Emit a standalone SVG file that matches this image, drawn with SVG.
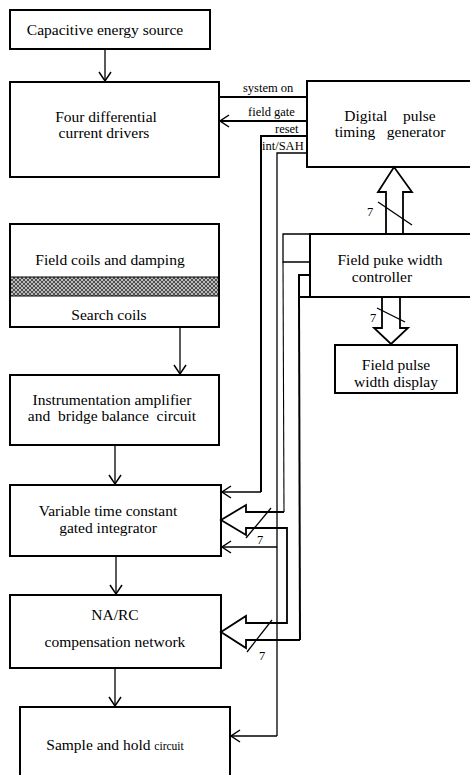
<svg xmlns="http://www.w3.org/2000/svg" width="470" height="775" viewBox="0 0 470 775">
<style>
.box{fill:#fff;stroke:#000;stroke-width:2}
.t{font-family:"Liberation Serif","Times New Roman",serif;font-size:15.5px;fill:#000;text-anchor:middle}
.s{font-family:"Liberation Serif","Times New Roman",serif;font-size:12.5px;fill:#000}
.w{fill:none;stroke:#000;stroke-width:1.3}
.wt{fill:none;stroke:#000;stroke-width:2}
.big{fill:none;stroke:#000;stroke-width:1.8;stroke-linejoin:miter}
</style>
<defs>
<marker id="ah" markerUnits="userSpaceOnUse" markerWidth="14" markerHeight="14" refX="10" refY="7" orient="auto">
<path d="M1,1 L10,7 L1,13" fill="none" stroke="#000" stroke-width="1.5"/>
</marker>
<pattern id="hatch" patternUnits="userSpaceOnUse" width="4" height="4">
<rect width="4" height="4" fill="#bbb"/>
<path d="M0,0 L4,4 M4,0 L0,4" stroke="#333" stroke-width="0.8"/>
</pattern>
</defs>

<g id="cap"><rect class="box" x="10" y="10" width="200" height="39"/><text class="t" x="105" y="35">Capacitive energy source</text></g>
<g id="drivers"><rect class="box" x="10" y="82" width="209" height="95"/><text class="t" x="106" y="122">Four differential</text><text class="t" x="104" y="138">current drivers</text></g>
<g id="gen"><rect class="box" x="307" y="81" width="170" height="86"/><text class="t" x="390" y="121" xml:space="preserve" font-size="15">Digital    pulse</text><text class="t" x="390" y="137" xml:space="preserve" font-size="15">timing   generator</text></g>
<g id="coils"><rect class="box" x="10" y="224" width="209" height="103"/><rect x="11" y="277" width="207" height="19" fill="url(#hatch)"/><line x1="10" y1="277" x2="219" y2="277" stroke="#000" stroke-width="1"/><line x1="10" y1="296" x2="219" y2="296" stroke="#000" stroke-width="1"/><text class="t" x="110" y="265">Field coils and damping</text><text class="t" x="109" y="320">Search coils</text></g>
<g id="ctrl"><rect class="box" x="310" y="234" width="170" height="63"/><text class="t" x="390" y="265">Field puke width</text><text class="t" x="382" y="282">controller</text></g>
<g id="display"><rect class="box" x="335" y="345" width="122" height="48"/><text class="t" x="396" y="370">Field pulse</text><text class="t" x="396" y="387">width display</text></g>
<g id="inst"><rect class="box" x="10" y="375" width="209" height="70"/><text class="t" x="112" y="405">Instrumentation amplifier</text><text class="t" x="112" y="421" xml:space="preserve">and  bridge balance  circuit</text></g>
<g id="integ"><rect class="box" x="10" y="485" width="211" height="71"/><text class="t" x="108" y="516">Variable time constant</text><text class="t" x="108" y="533">gated integrator</text></g>
<g id="narc"><rect class="box" x="10" y="595" width="211" height="73"/><text class="t" x="115" y="620">NA/RC</text><text class="t" x="115" y="647">compensation network</text></g>
<g id="sah"><rect class="box" x="20" y="707" width="210" height="80"/><text class="t" x="115" y="750">Sample and hold <tspan font-size="11.5">circuit</tspan></text></g>

<g id="connectors">
<line class="w" x1="105" y1="49" x2="105" y2="81" marker-end="url(#ah)"/>
<line class="w" x1="180" y1="327" x2="180" y2="374" marker-end="url(#ah)"/>
<line class="w" x1="115" y1="445" x2="115" y2="484" marker-end="url(#ah)"/>
<line class="w" x1="116" y1="556" x2="116" y2="594" marker-end="url(#ah)"/>
<line class="w" x1="115" y1="668" x2="115" y2="706" marker-end="url(#ah)"/>

<line class="wt" x1="219" y1="97" x2="307" y2="97"/>
<text class="s" x="243" y="92">system on</text>
<line class="wt" x1="307" y1="121" x2="220" y2="121" marker-end="url(#ah)"/>
<text class="s" x="248" y="116">field gate</text>
<polyline class="wt" points="307,136 261,136 261,492"/>
<polyline class="w" points="261,492 222,492" marker-end="url(#ah)"/>
<text class="s" x="275" y="133">reset</text>
<line x1="307" y1="128" x2="307" y2="136" stroke="#000" stroke-width="1"/>
<polyline class="w" points="307,153 277,153 277,736"/>
<line class="w" x1="277" y1="547" x2="222" y2="547" marker-end="url(#ah)"/>
<line class="w" x1="277" y1="736" x2="231" y2="736" marker-end="url(#ah)"/>
<text class="s" x="262" y="150">int/SAH</text>

<polyline class="w" points="310,234 283,234 283,262 310,262"/>
<line x1="283" y1="262" x2="284" y2="512" stroke="#000" stroke-width="1.1"/>
<polyline class="wt" points="310,275 299,275 299,297 310,297"/>
<line class="wt" x1="299" y1="297" x2="300" y2="640"/>

<polyline class="big" points="284,512 246,512 246,505 221,520 246,535 246,528 287,528 287,623 246,623 246,616 221,632 246,648 246,640 300,640"/>
<line class="w" x1="246" y1="538" x2="271" y2="508"/>
<text class="s" x="257" y="544" font-size="11">7</text>
<line class="w" x1="247" y1="652" x2="272" y2="620"/>
<text class="s" x="259" y="660" font-size="9">7</text>

<polyline class="big" points="386,234 386,192 378,192 394,167 412,192 403,192 403,234"/>
<line class="w" x1="378" y1="202" x2="412" y2="225"/>
<text class="s" x="367" y="216" font-size="11">7</text>

<polyline class="big" points="382,297 382,328 374,328 391,344 408,328 400,328 400,297"/>
<line class="w" x1="377" y1="308" x2="405" y2="322"/>
<text class="s" x="370" y="322" font-size="11">7</text>
</g>
</svg>
